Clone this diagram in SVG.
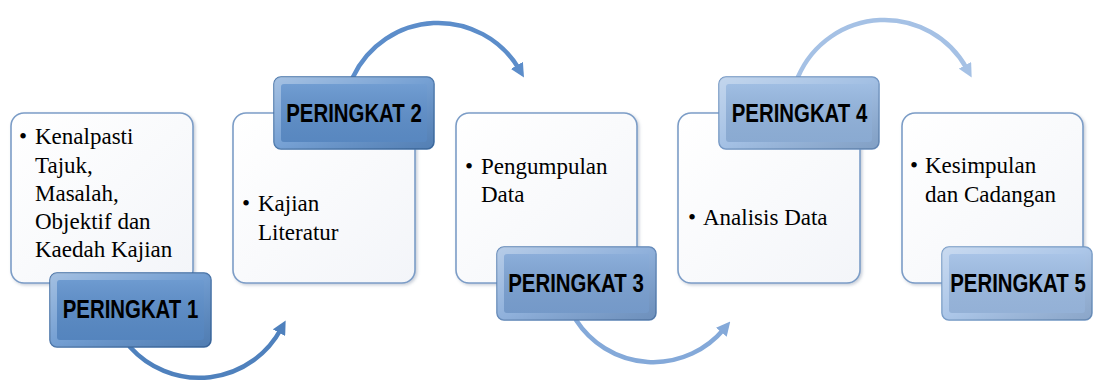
<svg xmlns="http://www.w3.org/2000/svg" width="1093" height="385" viewBox="0 0 1093 385">
<style>
.box{fill:url(#boxg);stroke:#7C9DC7;stroke-width:1.6}
.bt{font-family:"Liberation Serif","Times New Roman",serif;font-size:23px;fill:#000}
.lt{font-family:"Liberation Sans",Arial,sans-serif;font-weight:bold;font-size:20.4px;fill:#000;text-anchor:middle}
.edge{fill:url(#bevel)}
.sheen{fill:url(#sheen)}
.arc{fill:none;stroke-width:4.5;stroke-linecap:round}
</style>
<defs>
<linearGradient id="boxg" x1="0" y1="0" x2="1" y2="1">
<stop offset="0" stop-color="#FFFFFF"/>
<stop offset="1" stop-color="#F3F5F9"/>
</linearGradient>
<linearGradient id="bevel" x1="0" y1="0" x2="1" y2="1">
<stop offset="0" stop-color="#FFFFFF" stop-opacity="0.45"/>
<stop offset="0.5" stop-color="#FFFFFF" stop-opacity="0.15"/>
<stop offset="1" stop-color="#000000" stop-opacity="0.12"/>
</linearGradient>
<linearGradient id="sheen" x1="0" y1="0" x2="0" y2="1">
<stop offset="0" stop-color="#FFFFFF" stop-opacity="0.12"/>
<stop offset="1" stop-color="#000000" stop-opacity="0.06"/>
</linearGradient>
<filter id="sh" x="-10%" y="-10%" width="125%" height="125%">
<feDropShadow dx="1.5" dy="1.5" stdDeviation="1.5" flood-color="#8090A8" flood-opacity="0.45"/>
</filter>
<marker id="ah1" viewBox="0 0 10 10" refX="3" refY="5" markerWidth="14" markerHeight="14" markerUnits="userSpaceOnUse" orient="auto"><path d="M0,0 L10,5 L0,10 Z" fill="#4F81BD"/></marker>
<marker id="ah2" viewBox="0 0 10 10" refX="3" refY="5" markerWidth="14" markerHeight="14" markerUnits="userSpaceOnUse" orient="auto"><path d="M0,0 L10,5 L0,10 Z" fill="#5C8DCA"/></marker>
<marker id="ah3" viewBox="0 0 10 10" refX="3" refY="5" markerWidth="14" markerHeight="14" markerUnits="userSpaceOnUse" orient="auto"><path d="M0,0 L10,5 L0,10 Z" fill="#84A9D9"/></marker>
<marker id="ah4" viewBox="0 0 10 10" refX="3" refY="5" markerWidth="14" markerHeight="14" markerUnits="userSpaceOnUse" orient="auto"><path d="M0,0 L10,5 L0,10 Z" fill="#A5C1E5"/></marker>
</defs>
<rect width="1093" height="385" fill="#FFFFFF"/>

<g id="connectors">
<path class="arc" d="M130,347 A93 93 0 0 0 281,329" stroke="#4F81BD" marker-end="url(#ah1)"/>
<path class="arc" d="M353,77 A94 94 0 0 1 519,69" stroke="#5C8DCA" marker-end="url(#ah2)"/>
<path class="arc" d="M576,320 A92 92 0 0 0 724,329" stroke="#84A9D9" marker-end="url(#ah3)"/>
<path class="arc" d="M798,77 A94 94 0 0 1 967,69" stroke="#A5C1E5" marker-end="url(#ah4)"/>
</g>

<g id="node1">
<rect class="box" x="11" y="113" width="182" height="170" rx="13" filter="url(#sh)"/>
<text class="bt"><tspan x="19" y="144">•</tspan><tspan x="35" y="144">Kenalpasti</tspan><tspan x="35" y="173">Tajuk,</tspan><tspan x="35" y="201">Masalah,</tspan><tspan x="35" y="229">Objektif dan</tspan><tspan x="35" y="257">Kaedah  Kajian</tspan></text>
<g>
<rect x="50" y="273" width="161" height="74" rx="7" fill="#5A8DCA" stroke="#3E6CA4" stroke-width="1.5"/>
<rect class="edge" x="50" y="273" width="161" height="74" rx="7"/>
<rect x="57" y="280" width="147" height="60" rx="3" fill="#5A8DCA"/>
<rect class="sheen" x="57" y="280" width="147" height="60" rx="3"/>
<text class="lt" transform="translate(130.5 318) scale(1 1.28)">PERINGKAT 1</text>
</g>
</g>

<g id="node2">
<rect class="box" x="233" y="113" width="182" height="170" rx="13" filter="url(#sh)"/>
<text class="bt"><tspan x="242" y="211">•</tspan><tspan x="258" y="211">Kajian</tspan><tspan x="258" y="240">Literatur</tspan></text>
<g>
<rect x="274" y="77" width="160" height="72" rx="7" fill="#5E90CC" stroke="#4070A8" stroke-width="1.5"/>
<rect class="edge" x="274" y="77" width="160" height="72" rx="7"/>
<rect x="281" y="84" width="146" height="58" rx="3" fill="#5E90CC"/>
<rect class="sheen" x="281" y="84" width="146" height="58" rx="3"/>
<text class="lt" transform="translate(354 122) scale(1 1.28)">PERINGKAT 2</text>
</g>
</g>

<g id="node3">
<rect class="box" x="456" y="113" width="181" height="170" rx="13" filter="url(#sh)"/>
<text class="bt"><tspan x="465" y="174">•</tspan><tspan x="481" y="174">Pengumpulan</tspan><tspan x="481" y="202">Data</tspan></text>
<g>
<rect x="497" y="247" width="159" height="73" rx="7" fill="#7CA3D5" stroke="#5A82B5" stroke-width="1.5"/>
<rect class="edge" x="497" y="247" width="159" height="73" rx="7"/>
<rect x="504" y="254" width="145" height="59" rx="3" fill="#7CA3D5"/>
<rect class="sheen" x="504" y="254" width="145" height="59" rx="3"/>
<text class="lt" transform="translate(576 292) scale(1 1.28)">PERINGKAT 3</text>
</g>
</g>

<g id="node4">
<rect class="box" x="678" y="113" width="182" height="170" rx="13" filter="url(#sh)"/>
<text class="bt"><tspan x="688" y="225">•</tspan><tspan x="703" y="225">Analisis Data</tspan></text>
<g>
<rect x="719" y="77" width="160" height="72" rx="7" fill="#93B5DF" stroke="#6A90C0" stroke-width="1.5"/>
<rect class="edge" x="719" y="77" width="160" height="72" rx="7"/>
<rect x="726" y="84" width="146" height="58" rx="3" fill="#93B5DF"/>
<rect class="sheen" x="726" y="84" width="146" height="58" rx="3"/>
<text class="lt" transform="translate(799.5 122) scale(1 1.28)">PERINGKAT 4</text>
</g>
</g>

<g id="node5">
<rect class="box" x="902" y="113" width="181" height="170" rx="13" filter="url(#sh)"/>
<text class="bt"><tspan x="910" y="173">•</tspan><tspan x="925" y="173">Kesimpulan</tspan><tspan x="925" y="202">dan Cadangan</tspan></text>
<g>
<rect x="942" y="247" width="150" height="73" rx="7" fill="#9DBCE4" stroke="#7096C4" stroke-width="1.5"/>
<rect class="edge" x="942" y="247" width="150" height="73" rx="7"/>
<rect x="949" y="254" width="136" height="59" rx="3" fill="#9DBCE4"/>
<rect class="sheen" x="949" y="254" width="136" height="59" rx="3"/>
<text class="lt" transform="translate(1018 292) scale(1 1.28)">PERINGKAT 5</text>
</g>
</g>
</svg>
